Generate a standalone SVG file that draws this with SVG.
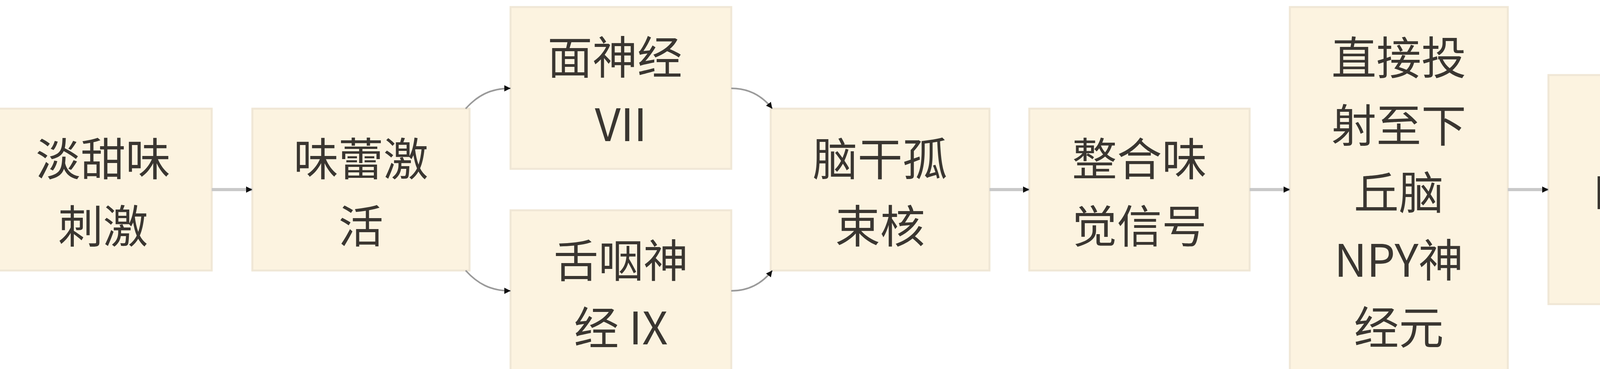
<svg xmlns="http://www.w3.org/2000/svg" width="6512" height="944" viewBox="0 0 6512 944">
<style>
.node rect{fill:#fcf3e0;stroke:#f0e7d6;stroke-width:5}
.node text{font-family:"Noto Sans CJK SC","Noto Sans",sans-serif;font-size:115px;fill:#3a3631;text-anchor:middle;dominant-baseline:central}
.edge{fill:none;stroke:#c9c9c9;stroke-width:8}
.curve{fill:none;stroke:#9a9a9a;stroke-width:4}
</style>
<defs>
<marker id="ah" viewBox="0 0 10 10" refX="10" refY="5" markerWidth="16" markerHeight="18" markerUnits="userSpaceOnUse" orient="auto">
<path d="M0,0 L10,5 L0,10 z" fill="#111"/>
</marker>
</defs>
<rect x="0" y="0" width="6512" height="944" fill="#ffffff"/>
<g id="n1" class="node"><rect x="-14" y="278" width="556" height="414"/><text x="264" y="398.75">淡甜味</text><text x="264" y="571.25">刺激</text></g>
<g id="n2" class="node"><rect x="646" y="278" width="556" height="414"/><text x="924" y="398.75">味蕾激</text><text x="924" y="571.25">活</text></g>
<g id="n3" class="node"><rect x="1307" y="18" width="565" height="414"/><text x="1574" y="138.75">面神经</text><text x="1589.5" y="311.25">VII</text></g>
<g id="n4" class="node"><rect x="1307" y="538" width="565" height="414"/><text x="1589.5" y="658.75">舌咽神</text><text x="1589.5" y="831.25">经 IX</text></g>
<g id="n5" class="node"><rect x="1973" y="278" width="560" height="414"/><text x="2253" y="398.75">脑干孤</text><text x="2253" y="571.25">束核</text></g>
<g id="n6" class="node"><rect x="2635" y="278" width="564" height="414"/><text x="2917" y="398.75">整合味</text><text x="2917" y="571.25">觉信号</text></g>
<g id="n7" class="node"><rect x="3302" y="18" width="558" height="934"/><text x="3581" y="140">直接投</text><text x="3581" y="312.5">射至下</text><text x="3581" y="485">丘脑</text><text x="3581" y="657.5">NPY神</text><text x="3581" y="830">经元</text></g>
<g id="n8" class="node"><rect x="3964" y="192" width="559" height="586"/><text x="4243.5" y="312.5">激发</text><text x="4243.5" y="485">NPY释</text><text x="4243.5" y="657.5">放</text></g>
<g id="n9" class="node"><rect x="4629" y="192" width="558" height="586"/><text x="4908" y="312.5">促食欲</text><text x="4908" y="485">信号增</text><text x="4908" y="657.5">强</text></g>
<g id="n10" class="node"><rect x="5293" y="278" width="558" height="414"/><text x="5572" y="398.75">采食动</text><text x="5572" y="571.25">机激活</text></g>
<g id="n11" class="node"><rect x="5957" y="278" width="560" height="414"/><text x="6236" y="398.75">仔猪采</text><text x="6236" y="571.25">食行为</text></g>
<g id="connectors">
<path class="edge" d="M542,485 L646,485" marker-end="url(#ah)"/>
<path class="curve" d="M1192,278 C1222,245 1255,226 1307,226" marker-end="url(#ah)"/>
<path class="curve" d="M1192,692 C1222,725 1255,744 1307,744" marker-end="url(#ah)"/>
<path class="curve" d="M1872,226 C1918,226 1952,246 1977,278" marker-end="url(#ah)"/>
<path class="curve" d="M1872,744 C1918,744 1952,724 1977,692" marker-end="url(#ah)"/>
<path class="edge" d="M2533,485 L2635,485" marker-end="url(#ah)"/>
<path class="edge" d="M3199,485 L3302,485" marker-end="url(#ah)"/>
<path class="edge" d="M3860,485 L3964,485" marker-end="url(#ah)"/>
<path class="edge" d="M4523,485 L4629,485" marker-end="url(#ah)"/>
<path class="edge" d="M5187,485 L5293,485" marker-end="url(#ah)"/>
<path class="edge" d="M5851,485 L5957,485" marker-end="url(#ah)"/>
</g>
</svg>
